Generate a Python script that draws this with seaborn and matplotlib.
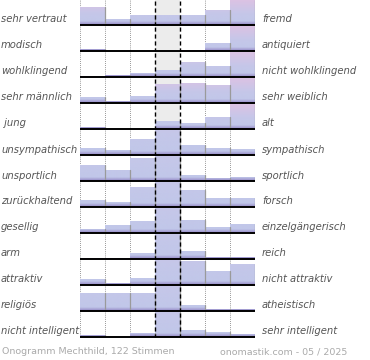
import matplotlib
matplotlib.use("Agg")
import matplotlib.pyplot as plt
import numpy as np
import pandas as pd
import seaborn as sns
from matplotlib.colors import LinearSegmentedColormap

sns.set_style("white")
plt.rcParams["font.family"] = ["DejaVu Sans"]

# Beschriftungen links / rechts
LEFT_LABELS = ["sehr vertraut", "modisch", "wohlklingend", "sehr männlich", " jung",
               "unsympathisch", "unsportlich", "zurückhaltend", "gesellig", "arm",
               "attraktiv", "religiös", "nicht intelligent"]
RIGHT_LABELS = ["fremd", "antiquiert", "nicht wohlklingend", "sehr weiblich", "alt",
                "sympathisch", "sportlich", "forsch", "einzelgängerisch", "reich",
                "nicht attraktiv", "atheistisch", "sehr intelligent"]
SCALE = [1, 2, 3, 4, 5, 6, 7]

# Balkenhoehen je Zeile (100 = volle Zeilenhoehe, groessere Werte werden abgeschnitten)
VERTRAUT = [71, 24, 39, 39, 39, 59, 100]
MODISCH = [7, 0, 0, 0, 6, 31, 100]
KLANG = [5, 9, 15, 27, 59, 43, 100]
MAENNLICH = [23, 7, 27, 75, 80, 71, 100]
JUNG = [7, 0, 0, 33, 25, 47, 100]
SYMPATHISCH = [27, 19, 63, 200, 41, 27, 23]
SPORTLICH = [63, 43, 92, 200, 23, 11, 15]
ZURUECK = [27, 19, 79, 200, 67, 35, 35]
GESELLIG = [15, 31, 47, 200, 51, 23, 35]
ARM = [3, 3, 23, 200, 31, 9, 9]
ATTRAKTIV = [23, 7, 27, 200, 96, 55, 83]
RELIGIOES = [71, 71, 71, 200, 23, 7, 7]
INTELLIGENT = [8, 0, 16, 200, 29, 20, 12]

ROWS = [VERTRAUT, MODISCH, KLANG, MAENNLICH, JUNG, SYMPATHISCH, SPORTLICH,
        ZURUECK, GESELLIG, ARM, ATTRAKTIV, RELIGIOES, INTELLIGENT]

W, H = 370, 360
ROW_H = 26
PLOT_X0, PLOT_X1 = 80, 255
Y_TOP = 100

bar_cmap = LinearSegmentedColormap.from_list(
    "bar", [(0.0, "#c0c7e9"), (0.45, "#c5c7e9"), (1.0, "#dcc2e3")])
shade = np.zeros((64, 1, 4))
shade[..., 0], shade[..., 1], shade[..., 2] = 0.56, 0.50, 0.76
shade[:, 0, 3] = np.linspace(0.95, 0.0, 64)

fig = plt.figure(figsize=(W / 100, H / 100), dpi=100)

for i, vals in enumerate(ROWS):
    ax = fig.add_axes([PLOT_X0 / W, 1 - (ROW_H * (i + 1)) / H,
                       (PLOT_X1 - PLOT_X0) / W, ROW_H / H])
    ax.set_facecolor("none")
    df = pd.DataFrame({"pos": SCALE, "val": vals})
    sns.barplot(data=df, x="pos", y="val", ax=ax, width=1, color="#c4c8e8",
                saturation=1, linewidth=0, zorder=2)
    bars = list(ax.patches)

    # Farbverlauf bezogen auf den hoechsten Wert der Zeile, nur sichtbarer Teil
    top = max(vals)
    vis = min(top, Y_TOP)
    grad = np.linspace(0, vis / top, 256).reshape(-1, 1)
    for p in bars:
        x0, w, h = p.get_x(), p.get_width(), p.get_height()
        if h <= 0:
            continue
        p.set_facecolor("none")
        im = ax.imshow(grad, cmap=bar_cmap, vmin=0, vmax=1,
                       extent=(x0, x0 + w, 0, vis),
                       origin="lower", aspect="auto", zorder=2.1)
        im.set_clip_path(p)
        sh = ax.imshow(shade, extent=(x0, x0 + w, 0, 14), origin="lower",
                       aspect="auto", zorder=2.2)
        sh.set_clip_path(p)
        ax.plot([x0 + w, x0 + w], [0, min(h, Y_TOP)], color="#9a9a9a",
                lw=0.9, zorder=2.3)

    ax.axvspan(2.5, 3.5, color="#ececec", zorder=0, lw=0)
    for xb in [-0.5, 0.5, 1.5, 4.5, 5.5, 6.5]:
        ax.axvline(xb, color="#777777", lw=0.6, ls=(0, (1, 1.5)), zorder=1)
    for xb in [2.5, 3.5]:
        ax.axvline(xb, color="black", lw=1.0, ls=(0, (3, 2)), zorder=4)
    ax.axhline(0, color="black", lw=1.4, zorder=5)

    ax.set_xlim(-0.5, 6.5)
    ax.set_ylim(-4, Y_TOP)
    ax.set_axis_off()

    yc = 1 - (ROW_H * i + 19.5) / H
    fig.text(1 / W, yc, LEFT_LABELS[i], ha="left", va="center", fontsize=7.2,
             style="italic", color="#555555")
    fig.text(262 / W, yc, RIGHT_LABELS[i], ha="left", va="center", fontsize=7.2,
             style="italic", color="#555555")

fig.text(2 / W, 1 - 352 / H, "Onogramm Mechthild, 122 Stimmen", ha="left",
         va="center", fontsize=6.8, color="#aaaaaa")
fig.text(347 / W, 1 - 352 / H, "onomastik.com - 05 / 2025", ha="right",
         va="center", fontsize=6.8, color="#aaaaaa")

fig.savefig("out.png", dpi=100)
